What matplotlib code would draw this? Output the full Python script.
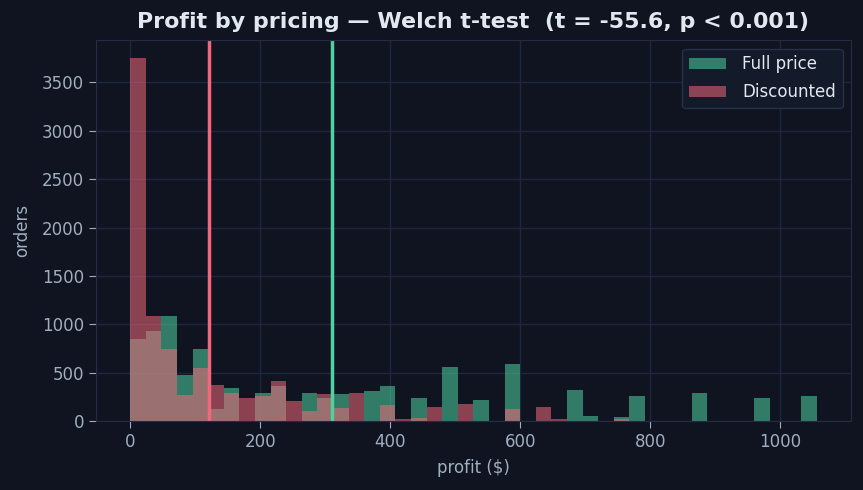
import numpy as np
import matplotlib.pyplot as plt

# histogram counts, bins of $24 from 0 to 1056
bin_edges = np.arange(0, 1057, 24)
full_price = [845, 925, 1080, 470, 740, 120, 340, 0, 285, 360,
              0, 285, 235, 275, 0, 305, 360, 0, 235, 0,
              555, 0, 215, 0, 585, 0, 0, 0, 315, 50,
              0, 40, 255, 0, 0, 0, 285, 0, 0, 0,
              235, 0, 0, 255]
discounted = [3750, 1080, 740, 265, 545, 370, 285, 235, 255, 410,
              205, 100, 275, 130, 285, 0, 160, 15, 25, 140,
              0, 170, 0, 0, 120, 0, 140, 15, 0, 0,
              0, 15, 0, 0, 0, 0, 0, 0, 0, 0,
              0, 0, 0, 0]
full_mean = 310
disc_mean = 121
title = 'Profit by pricing — Welch t-test  (t = -55.6, p < 0.001)'

bg = '#0f1420'
green = '#4fd1a0'
red = '#f0687a'
text_col = '#a0aec0'

plt.rcParams['font.family'] = 'DejaVu Sans'
fig, ax = plt.subplots(figsize=(8.63, 4.9), dpi=100)
fig.patch.set_facecolor(bg)
ax.set_facecolor(bg)

centers = bin_edges[:-1]
ax.hist(centers, bins=bin_edges, weights=full_price, color=green, alpha=0.55,
        label='Full price')
ax.hist(centers, bins=bin_edges, weights=discounted, color=red, alpha=0.55,
        label='Discounted')
ax.axvline(full_mean, color=green, lw=2.5)
ax.axvline(disc_mean, color=red, lw=2.5)

ax.grid(True, color='#1e2740', lw=1)
ax.set_axisbelow(True)
for s in ax.spines.values():
    s.set_color('#232c44')
ax.tick_params(colors=text_col, labelsize=12, length=5)
ax.set_xlabel('profit ($)', color=text_col, fontsize=12, labelpad=6)
ax.set_ylabel('orders', color=text_col, fontsize=12, labelpad=8)
ax.set_title(title, color='#e2e8f0', fontsize=15.9, fontweight='bold', pad=8.5)

leg = ax.legend(fontsize=12, facecolor='#131a2a', edgecolor='#263048',
                framealpha=1, handlelength=2.2, handletextpad=1.0,
                labelspacing=0.6)
for t in leg.get_texts():
    t.set_color('#e2e8f0')

plt.subplots_adjust(left=0.111, right=0.986, top=0.918, bottom=0.141)
plt.savefig('out.png', facecolor=bg)
